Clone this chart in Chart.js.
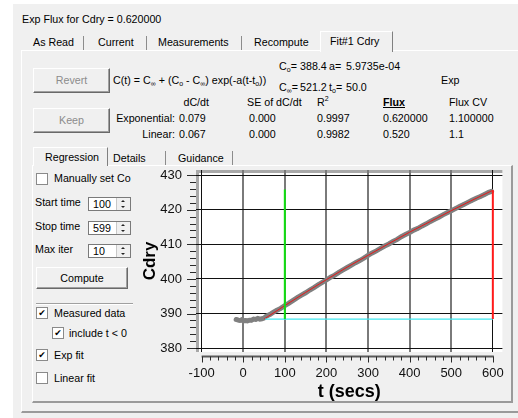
<!DOCTYPE html>
<html>
<head>
<meta charset="utf-8">
<script src="https://cdn.jsdelivr.net/npm/chart.js@4.4.0/dist/chart.umd.min.js"></script>
<style>
  body { margin: 0; width: 518px; height: 418px; background: #fff; overflow: hidden;
         font: 10.7px "Liberation Sans", Arial, sans-serif; color: #000; }
  .a { position: absolute; white-space: nowrap; line-height: 13px; height: 13px; }
  .s { font-size: 7px; position: relative; top: 2px; }
  .box { position: absolute; box-sizing: border-box; }
  .btn { position: absolute; box-sizing: border-box; background: #f0f0f0;
         border: 1px solid; border-color: #fff #696969 #696969 #fff;
         box-shadow: inset -1px -1px #a0a0a0; text-align: center; }
  .sep { position: absolute; width: 1px; background: #8c8c8c; }
  .cb { position: absolute; width: 12px; height: 12px; box-sizing: border-box; background: #fff;
        border: 1px solid #8a8a8a; font: bold 9px "DejaVu Sans"; line-height: 10px; text-align: center; }
  .sp { position: absolute; width: 43px; height: 14px; box-sizing: border-box; background: #fff;
        border: 1px solid #7a7a7a; padding-left: 4px; line-height: 12px; }
  .arr { position: absolute; top: 0; right: 0; width: 13px; height: 12px; background: #f0f0f0; border-left: 1px solid #c8c8c8; }
  .arr i { position: absolute; left: 4px; width: 0; height: 0; border-left: 2px solid transparent; border-right: 2px solid transparent; }
  .up { top: 2px; border-bottom: 2px solid #222; }
  .dn { bottom: 2px; border-top: 2px solid #222; }
  canvas { position: absolute; left: 140px; top: 160px; z-index: 2; }
</style>
</head>
<body>
<div class="box" style="left:13px;top:4px;width:505px;height:414px;background:#f0f0f0"></div>

<div class="a" style="left:22px;top:13px">Exp Flux for Cdry = 0.620000</div>

<!-- main tabs -->
<div class="box" style="left:21px;top:50px;width:600px;height:363px;border-left:1px solid #fff;border-top:1px solid #fff;border-bottom:2px solid #9a9a9a"></div>
<div class="box" style="left:320px;top:31px;width:73px;height:21px;background:#f0f0f0;border-left:1px solid #fff;border-top:1px solid #fff;border-right:1px solid #808080"></div>
<div class="a" style="left:33px;top:36px">As Read</div>
<div class="sep" style="left:83px;top:36px;height:14px"></div>
<div class="a" style="left:98px;top:36px">Current</div>
<div class="sep" style="left:146px;top:36px;height:14px"></div>
<div class="a" style="left:158px;top:36px">Measurements</div>
<div class="sep" style="left:241px;top:36px;height:14px"></div>
<div class="a" style="left:254px;top:36px">Recompute</div>
<div class="a" style="left:330px;top:35px">Fit#1 Cdry</div>

<!-- buttons and fit summary -->
<div class="btn" style="left:33px;top:68px;width:77px;height:25px;line-height:23px;color:#8c8c8c">Revert</div>
<div class="btn" style="left:33px;top:108px;width:77px;height:25px;line-height:23px;color:#8c8c8c">Keep</div>

<div class="a" style="left:113px;top:74px">C(t) = C<span class="s">&#8734;</span> + (C<span class="s">o</span> - C<span class="s">&#8734;</span>) exp(-a(t-t<span class="s">o</span>))</div>
<div class="a" style="left:279px;top:60px">C<span class="s">o</span>=</div>
<div class="a" style="left:300px;top:60px">388.4</div>
<div class="a" style="left:329px;top:60px">a=</div>
<div class="a" style="left:346px;top:60px">5.9735e-04</div>
<div class="a" style="left:279px;top:81px">C<span class="s">&#8734;</span>=</div>
<div class="a" style="left:300px;top:81px">521.2</div>
<div class="a" style="left:329px;top:81px">t<span class="s">o</span>=</div>
<div class="a" style="left:346px;top:81px">50.0</div>
<div class="a" style="left:441px;top:74px">Exp</div>

<div class="a" style="left:150px;top:96px;width:59px;text-align:right">dC/dt</div>
<div class="a" style="left:247px;top:96px">SE of dC/dt</div>
<div class="a" style="left:317px;top:96px">R<sup style="font-size:7px;line-height:0">2</sup></div>
<div class="a" style="left:383px;top:96px;font-weight:bold;text-decoration:underline">Flux</div>
<div class="a" style="left:449px;top:96px">Flux CV</div>

<div class="a" style="left:100px;top:112px;width:75px;text-align:right">Exponential:</div>
<div class="a" style="left:179px;top:112px">0.079</div>
<div class="a" style="left:249px;top:112px">0.000</div>
<div class="a" style="left:317px;top:112px">0.9997</div>
<div class="a" style="left:383px;top:112px">0.620000</div>
<div class="a" style="left:449px;top:112px">1.100000</div>

<div class="a" style="left:100px;top:128px;width:75px;text-align:right">Linear:</div>
<div class="a" style="left:179px;top:128px">0.067</div>
<div class="a" style="left:249px;top:128px">0.000</div>
<div class="a" style="left:317px;top:128px">0.9982</div>
<div class="a" style="left:383px;top:128px">0.520</div>
<div class="a" style="left:449px;top:128px">1.1</div>

<!-- sub tabs -->
<div class="box" style="left:32px;top:165px;width:481px;height:238px;border-left:1px solid #fff;border-top:1px solid #fff;border-right:2px solid #9a9a9a;border-bottom:2px solid #9a9a9a"></div>
<div class="box" style="left:33px;top:147px;width:75px;height:19px;background:#f0f0f0;border-left:1px solid #fff;border-top:1px solid #fff;border-right:1px solid #808080"></div>
<div class="a" style="left:45px;top:151px">Regression</div>
<div class="a" style="left:113px;top:152px">Details</div>
<div class="sep" style="left:165px;top:151px;height:14px"></div>
<div class="a" style="left:178px;top:152px">Guidance</div>
<div class="sep" style="left:232px;top:151px;height:14px"></div>

<!-- regression controls -->
<div class="cb" style="left:36px;top:173px"></div>
<div class="a" style="left:54px;top:172px">Manually set Co</div>

<div class="a" style="left:35px;top:196px">Start time</div>
<div class="sp" style="left:88px;top:197px">100<div class="arr"><i class="up"></i><i class="dn"></i></div></div>
<div class="a" style="left:35px;top:220px">Stop time</div>
<div class="sp" style="left:88px;top:221px">599<div class="arr"><i class="up"></i><i class="dn"></i></div></div>
<div class="a" style="left:35px;top:243px">Max iter</div>
<div class="sp" style="left:88px;top:244px">10<div class="arr"><i class="up"></i><i class="dn"></i></div></div>

<div class="btn" style="left:36px;top:267px;width:92px;height:22px;line-height:20px">Compute</div>
<div class="box" style="left:36px;top:303px;width:97px;height:2px;border-top:1px solid #a0a0a0;border-bottom:1px solid #fff"></div>

<div class="cb" style="left:36px;top:307px">&#10004;</div>
<div class="a" style="left:54px;top:307px">Measured data</div>
<div class="cb" style="left:52px;top:327px">&#10004;</div>
<div class="a" style="left:69px;top:327px">include t &lt; 0</div>
<div class="cb" style="left:36px;top:349px">&#10004;</div>
<div class="a" style="left:54px;top:349px">Exp fit</div>
<div class="cb" style="left:36px;top:372px"></div>
<div class="a" style="left:54px;top:372px">Linear fit</div>

<canvas id="fitChart" width="378" height="245"></canvas>

<script>
// ---------------- measured Cdry ----------------
const timeSecs = [-17, -12, -8, -4, 0, 5, 10, 15, 20, 25, 30, 35, 40, 45, 50, 55, 60, 65, 70, 80,
  90, 100, 110, 120, 130, 140, 150, 160, 170, 180, 190, 200, 210, 220, 230, 240, 250, 260, 270,
  280, 290, 300, 310, 320, 330, 340, 350, 360, 370, 380, 390, 400, 410, 420, 430, 440, 450, 460,
  470, 480, 490, 500, 510, 520, 530, 540, 550, 560, 570, 580, 590, 597];
const cdryMeasured = [388.3, 388.1, 388.0, 388.2, 387.9, 388.0, 387.9, 388.1, 388.1, 388.4, 388.3,
  388.6, 388.4, 388.5, 388.7, 389.2, 389.5, 389.8, 390.2, 390.9, 391.5, 392.3, 393.0, 393.8, 394.6,
  395.3, 396.0, 396.8, 397.5, 398.3, 399.0, 399.7, 400.5, 401.1, 401.9, 402.6, 403.3, 404.0, 404.7,
  405.3, 406.0, 406.8, 407.5, 408.1, 408.8, 409.5, 410.1, 410.8, 411.4, 412.2, 412.8, 413.4, 414.1,
  414.6, 415.3, 415.9, 416.6, 417.2, 417.8, 418.5, 419.1, 419.7, 420.3, 420.9, 421.5, 422.1, 422.7,
  423.3, 423.8, 424.4, 425.0, 425.3];

// ---------------- exponential fit curve ----------------
const fitTimes = [50, 100, 150, 200, 250, 300, 350, 400, 450, 500, 550, 600];
const fitCdry = [388.4, 392.3, 396.1, 399.8, 403.4, 406.8, 410.2, 413.5, 416.6, 419.7, 422.7, 425.6];

// ---------------- markers: Co baseline, start and stop time ----------------
const baseTimes = [52, 600];
const baseCdry = [388.4, 388.4];
const startTimes = [100, 100];
const startCdry = [388.4, 425.8];
const stopTimes = [600, 600];
const stopCdry = [388.4, 425.6];

// ---------------- axis ticks ----------------
const xTickValues = [-100, 0, 100, 200, 300, 400, 500, 600];
const yTickValues = [380, 390, 400, 410, 420, 430];

const pts = (xs, ys) => xs.map((x, i) => ({ x: x, y: ys[i] }));
const FONT = '"Liberation Sans", Arial, sans-serif';

// white plot box with the grey frame on the left and top, plus the minor ticks
const plotFrame = {
  id: "plotFrame",
  beforeDraw(chart) {
    const { ctx, chartArea: a } = chart;
    ctx.save();
    ctx.fillStyle = "#fff";
    ctx.fillRect(a.left, a.top, a.right - a.left, a.bottom - a.top);
    ctx.fillStyle = "#a8a8a8";
    ctx.fillRect(a.left, a.top, 3, a.bottom - a.top);
    ctx.fillRect(a.left, a.top, a.right - a.left, 3);
    ctx.restore();
  },
  afterDraw(chart) {
    const { ctx, chartArea: a } = chart;
    const xs = chart.scales.x, ys = chart.scales.y;
    ctx.save();
    ctx.strokeStyle = "#2a2a2a";
    ctx.lineWidth = 1;
    // y ticks, major every 10 and minor every 2
    ctx.beginPath();
    for (let v = 380; v <= 430; v += 2) {
      const y = Math.round(ys.getPixelForValue(v)) + 0.5;
      const len = v % 10 === 0 ? 9 : 6;
      ctx.moveTo(a.left - len, y);
      ctx.lineTo(a.left, y);
    }
    ctx.stroke();
    // separate x axis line below the plot
    const x0 = xs.getPixelForValue(-100), x1 = xs.getPixelForValue(600);
    const yAxis = a.bottom + 4.5;
    ctx.strokeStyle = "#5a5a5a";
    ctx.lineWidth = 2;
    ctx.beginPath();
    ctx.moveTo(x0, yAxis);
    ctx.lineTo(x1 + 1, yAxis);
    ctx.stroke();
    ctx.strokeStyle = "#2a2a2a";
    ctx.lineWidth = 1;
    ctx.beginPath();
    for (let v = -100; v <= 600; v += 20) {
      const x = Math.round(xs.getPixelForValue(v)) + 0.5;
      const len = v % 100 === 0 ? 6 : 4;
      ctx.moveTo(x, yAxis);
      ctx.lineTo(x, yAxis + len);
    }
    ctx.stroke();
    ctx.restore();
  }
};

const fitChart = new Chart(document.getElementById("fitChart"), {
  type: "scatter",
  data: {
    datasets: [
      { data: pts(stopTimes, stopCdry), showLine: true, borderColor: "#ff1a1a", borderWidth: 2, pointRadius: 0 },
      { data: pts(startTimes, startCdry), showLine: true, borderColor: "#10e010", borderWidth: 2, pointRadius: 0 },
      { data: pts(baseTimes, baseCdry), showLine: true, borderColor: "#40e8f0", borderWidth: 1.2, pointRadius: 0 },
      { data: pts(fitTimes, fitCdry), showLine: true, borderColor: "#e81818", borderWidth: 1, pointRadius: 0 },
      { data: pts(timeSecs, cdryMeasured), showLine: true, borderColor: "#808080", borderWidth: 5,
        borderCapStyle: "round", pointRadius: 1.6, pointBackgroundColor: "#808080",
        pointBorderColor: "#808080", pointBorderWidth: 1 }
    ]
  },
  options: {
    responsive: false,
    animation: false,
    devicePixelRatio: 1,
    layout: { padding: { left: 0, top: 10, right: 10, bottom: 0 } },
    plugins: { legend: { display: false }, tooltip: { enabled: false } },
    scales: {
      x: {
        type: "linear",
        min: -113.5,
        max: 623,
        afterFit: s => { s.height = 53; },
        afterBuildTicks: s => { s.ticks = xTickValues.map(v => ({ value: v })); },
        border: { display: false },
        grid: {
          drawTicks: false,
          color: c => (c.tick && (c.tick.value === -100 || c.tick.value === 600)) ? "#111" : "#7a7a7a",
          lineWidth: c => (c.tick && (c.tick.value === -100 || c.tick.value === 600)) ? 1 : 2
        },
        ticks: { padding: 14, color: "#111", font: { family: FONT, size: 13 }, maxRotation: 0 },
        title: { display: true, text: "t (secs)", color: "#000", padding: { top: 0, bottom: 2 },
                 font: { family: FONT, size: 18, weight: "bold" } }
      },
      y: {
        type: "linear",
        min: 378.9,
        max: 431.45,
        afterFit: s => { s.width = 56; },
        afterBuildTicks: s => { s.ticks = yTickValues.map(v => ({ value: v })); },
        border: { display: false },
        grid: { drawTicks: true, tickLength: 14, tickColor: "rgba(0,0,0,0)", color: "#111", lineWidth: 1 },
        ticks: { padding: 0, color: "#111", font: { family: FONT, size: 13 } },
        title: { display: true, text: "Cdry", color: "#000", padding: { top: 0, bottom: 0 },
                 font: { family: FONT, size: 17, weight: "bold" } }
      }
    }
  },
  plugins: [plotFrame]
});
</script>
</body>
</html>
